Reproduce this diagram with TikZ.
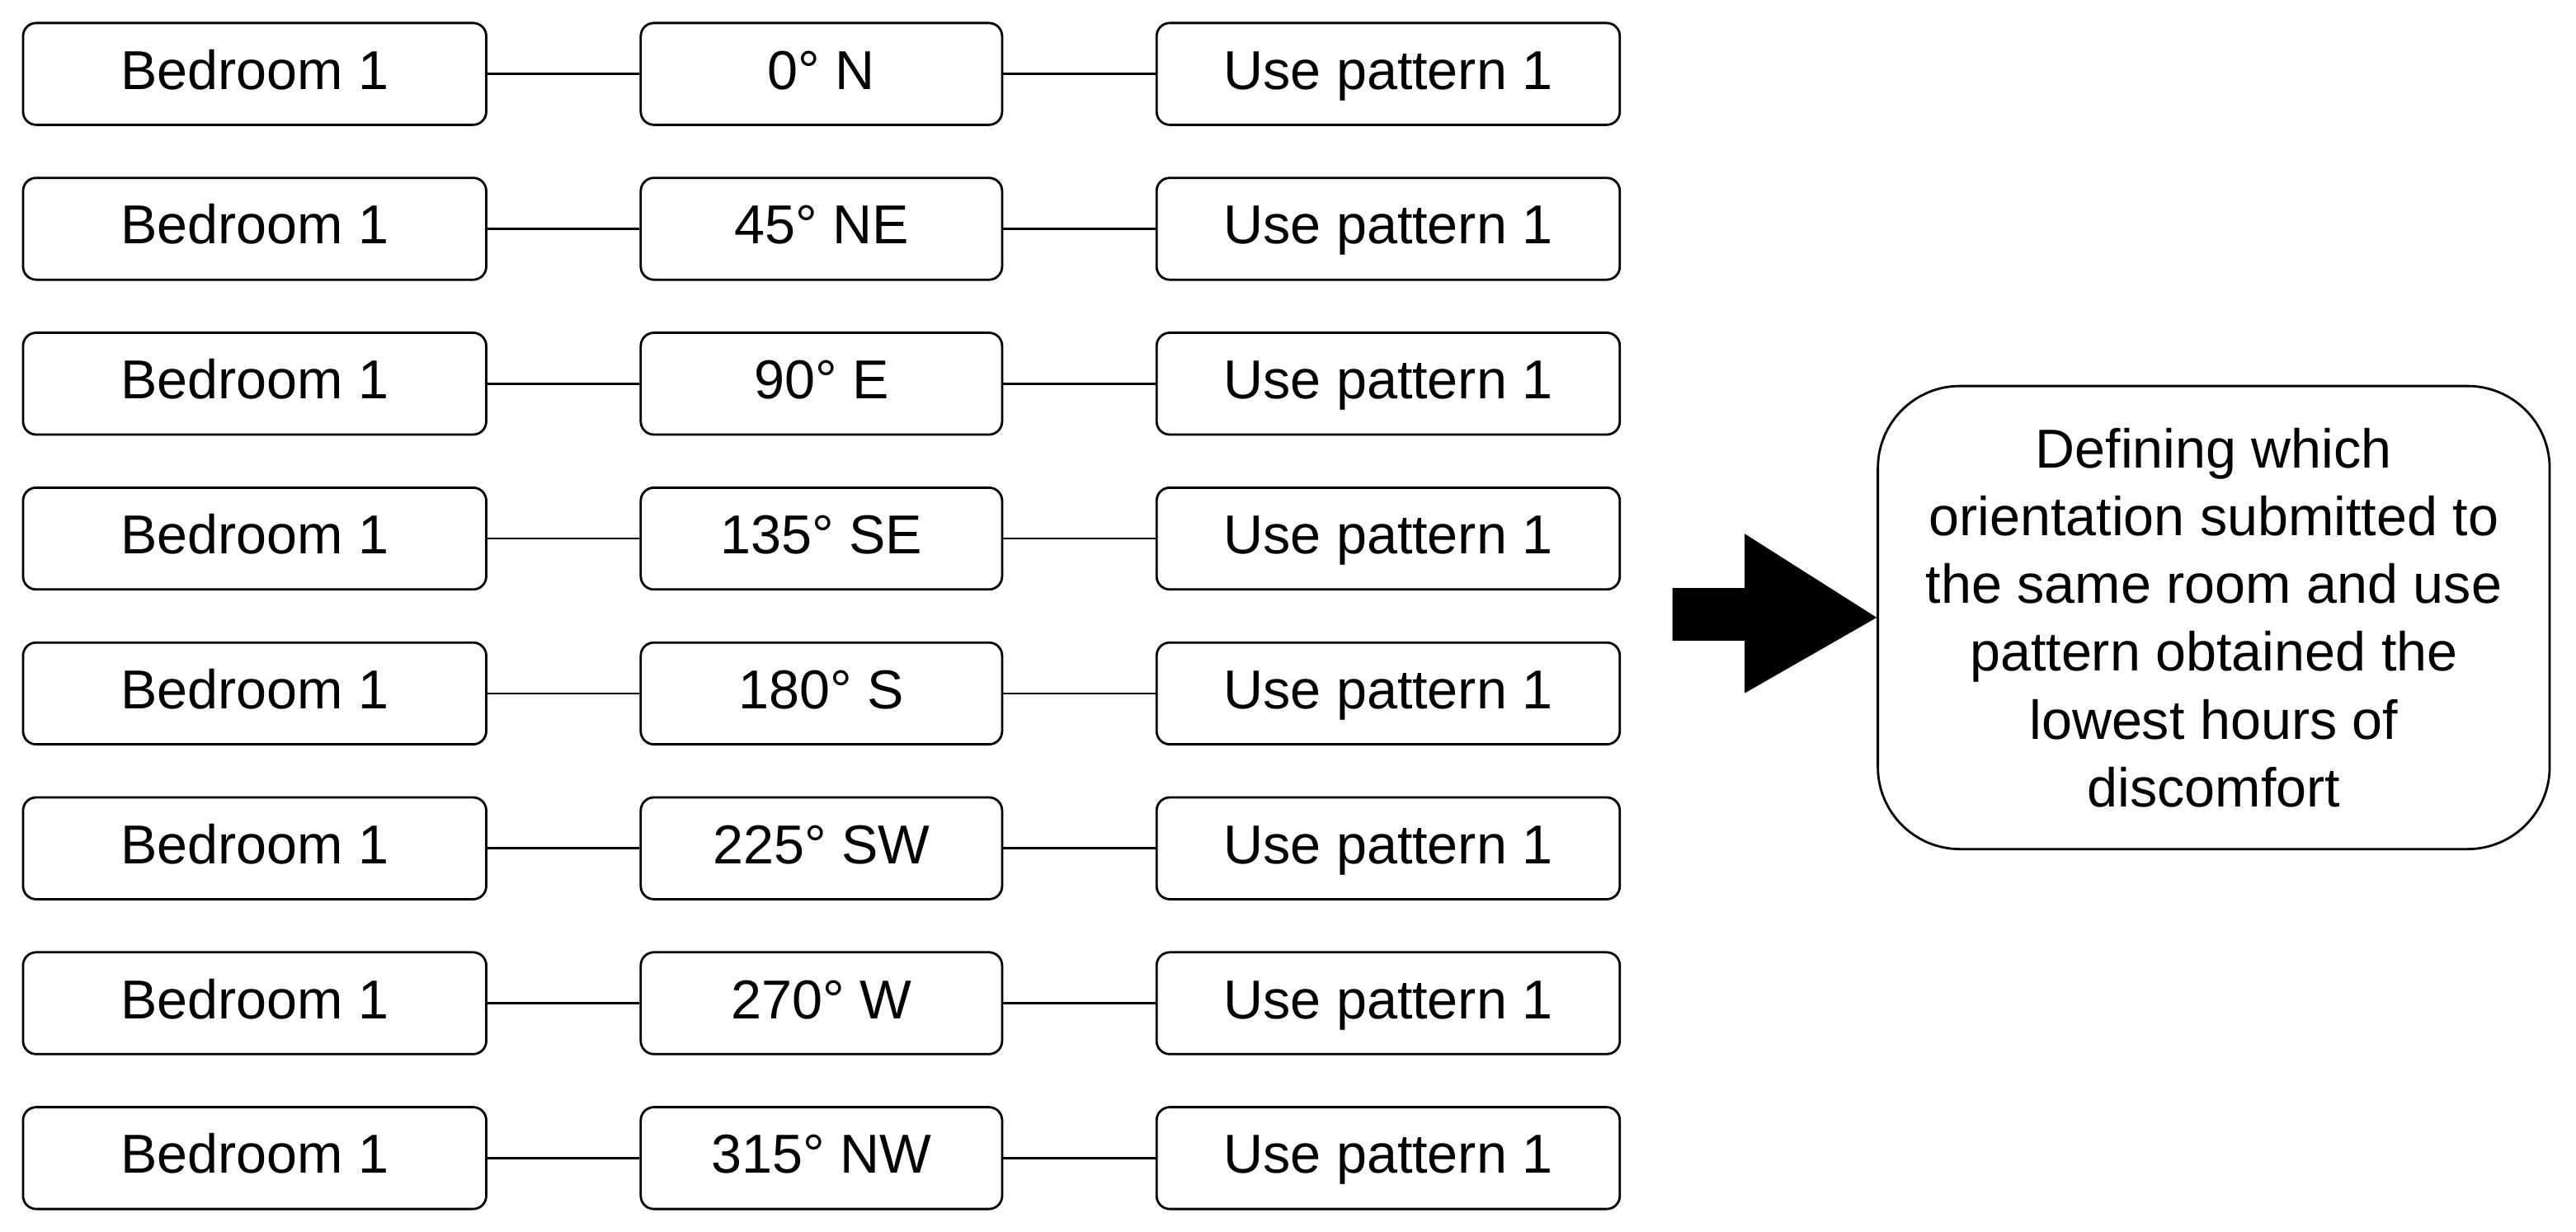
\documentclass[tikz,border=0pt]{standalone}
\usepackage{fontspec}
\setmainfont{Liberation Sans}
\usetikzlibrary{calc}

\begin{document}
\begin{tikzpicture}
                [x=0.02cm, y=-0.02cm,
                every text node part/.style={align=center},
                rsty/.style={draw, thick, rounded corners=0.16cm, inner sep=0, minimum height=1.24cm, text height=13.6pt, text depth=3pt, font=\fontsize{19}{23}\selectfont},
                bsty/.style={rsty, minimum width=5.64cm},
                osty/.style={rsty, minimum width=4.4cm},
                lsty/.style={thick}]
                \useasboundingbox (0,0) rectangle (1568,750);
                % rows of room, orientation and use pattern
                \foreach \ang [count=\i from 0] in {0\textdegree{} N, 45\textdegree{} NE, 90\textdegree{} E, 135\textdegree{} SE, 180\textdegree{} S, 225\textdegree{} SW, 270\textdegree{} W, 315\textdegree{} NW}{
                    \node[bsty] (room\i) at (155,45+94.3*\i) {Bedroom 1};
                    \node[osty] (ori\i) at (500,45+94.3*\i) {\ang};
                    \node[bsty] (use\i) at (845,45+94.3*\i) {Use pattern 1};
                    \draw[lsty] (room\i) -- (ori\i);
                    \draw[lsty] (ori\i) -- (use\i);
                }
                % result
                \node[draw, thick, rounded corners=1cm, minimum width=8.18cm, minimum height=5.64cm, inner sep=0,
                      font=\fontsize{19}{23.5}\selectfont] (res) at (1347.5,376)
                     {Defining which\\orientation submitted to\\the same room and use\\pattern obtained the\\lowest hours of\\discomfort};
                % block arrow
                \fill (1018,358) -- (1062,358) -- (1062,325) -- (res.west) -- (1062,422) -- (1062,390) -- (1018,390) -- cycle;
            \end{tikzpicture}
\end{document}
